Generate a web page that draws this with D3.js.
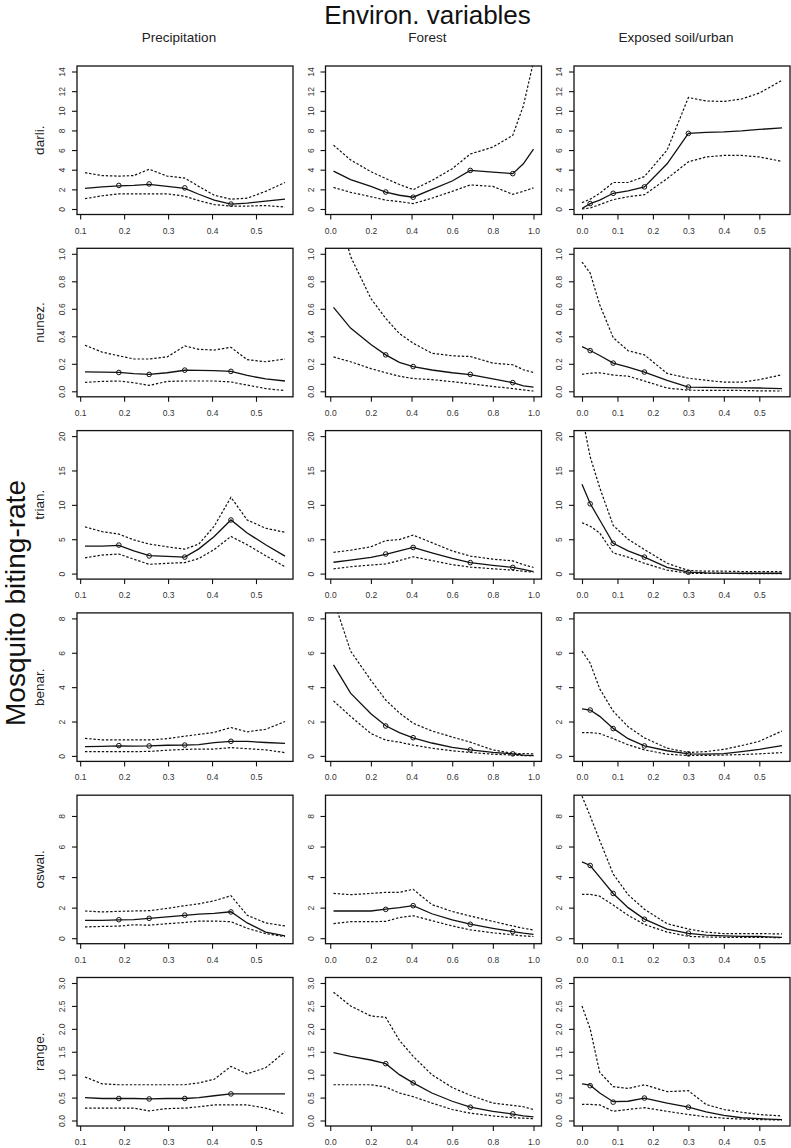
<!DOCTYPE html>
<html><head><meta charset="utf-8">
<script src="https://cdn.jsdelivr.net/npm/d3@7"></script>
<style>body{margin:0;background:#fff} svg{display:block;font-family:"Liberation Sans",Arial,sans-serif}</style>
</head><body><svg id="c" width="791" height="1148"></svg>
<script>
// ---------- categories / labels ----------
const mainTitle = "Environ. variables";
const sideTitle = "Mosquito biting-rate";
const rowNames = ["darli.", "nunez.", "trian.", "benar.", "oswal.", "range."];
const colNames = ["Precipitation", "Forest", "Exposed soil/urban"];

// ---------- axes ----------
const yLimMax = [14, 1, 20, 8, 9, 3];
const yTicks = [
  [0,2,4,6,8,10,12,14],
  [0,0.2,0.4,0.6,0.8,1.0],
  [0,5,10,15,20],
  [0,2,4,6,8],
  [0,2,4,6,8],
  [0,0.5,1.0,1.5,2.0,2.5,3.0]
];
const yTickDecimals = [0, 1, 0, 0, 0, 1];
const xTicksPrecip  = [0.1,0.2,0.3,0.4,0.5];
const xTicksForest  = [0.0,0.2,0.4,0.6,0.8,1.0];
const xTicksExposed = [0.0,0.1,0.2,0.3,0.4,0.5];

// ---------- x grids (per column) ----------
const xPrecip  = [0.111,0.15,0.188,0.222,0.257,0.298,0.338,0.37,0.405,0.443,0.48,0.522,0.566];
const xForest  = [0.016,0.1,0.2,0.273,0.34,0.408,0.5,0.6,0.689,0.8,0.898,0.95,1.0];
const xExposed = [0.0,0.023,0.05,0.088,0.13,0.176,0.24,0.30,0.35,0.40,0.45,0.50,0.564];
const ptsXPrecip  = [0.188,0.257,0.338,0.443];
const ptsXForest  = [0.273,0.408,0.689,0.898];
const ptsXExposed = [0.023,0.088,0.176,0.30];

// ---------- darli. ----------
const darliPrecipFit = [2.1,2.25,2.35,2.4,2.5,2.3,2.1,1.5,0.9,0.5,0.6,0.8,1.0];
const darliPrecipUp  = [3.7,3.4,3.35,3.4,4.05,3.35,3.15,2.3,1.4,1.0,1.1,1.8,2.7];
const darliPrecipLo  = [1.05,1.35,1.55,1.55,1.55,1.55,1.3,0.85,0.45,0.3,0.3,0.35,0.2];
const darliPrecipPts = [2.4,2.55,2.15,0.5];
const darliForestFit = [3.85,3.0,2.3,1.73,1.4,1.2,2.0,2.85,3.93,3.75,3.6,4.6,6.1];
const darliForestUp  = [6.5,5.0,3.8,3.1,2.5,1.97,2.9,4.1,5.6,6.3,7.5,10.5,15.0];
const darliForestLo  = [2.2,1.7,1.25,0.9,0.75,0.55,1.1,1.8,2.45,2.3,1.5,1.8,2.15];
const darliForestPts = [1.73,1.2,3.93,3.6];
const darliExposedFit = [0.05,0.55,0.9,1.6,1.85,2.25,4.6,7.7,7.8,7.85,7.95,8.1,8.25];
const darliExposedUp  = [0.65,1.0,1.6,2.7,2.7,3.3,6.0,11.35,11.0,10.95,11.2,11.8,13.1];
const darliExposedLo  = [0.0,0.1,0.45,0.95,1.25,1.45,3.1,4.8,5.3,5.45,5.45,5.3,4.85];
const darliExposedPts = [0.55,1.6,2.25,7.7];

// ---------- nunez. ----------
const nunezPrecipFit = [0.142,0.14,0.137,0.128,0.123,0.135,0.153,0.152,0.15,0.145,0.115,0.09,0.075];
const nunezPrecipUp  = [0.335,0.285,0.258,0.235,0.235,0.25,0.33,0.305,0.30,0.32,0.23,0.215,0.235];
const nunezPrecipLo  = [0.065,0.072,0.075,0.062,0.043,0.072,0.075,0.075,0.075,0.068,0.045,0.02,0.005];
const nunezPrecipPts = [0.137,0.123,0.154,0.145];
const nunezForestFit = [0.61,0.46,0.34,0.265,0.21,0.18,0.155,0.135,0.122,0.09,0.063,0.04,0.03];
const nunezForestUp  = [1.45,0.98,0.675,0.53,0.42,0.35,0.277,0.258,0.253,0.205,0.193,0.157,0.137];
const nunezForestLo  = [0.25,0.215,0.165,0.135,0.11,0.093,0.085,0.07,0.055,0.035,0.02,0.01,0.002];
const nunezForestPts = [0.265,0.18,0.123,0.063];
const nunezExposedFit = [0.325,0.297,0.26,0.205,0.175,0.14,0.08,0.03,0.028,0.027,0.025,0.024,0.019];
const nunezExposedUp  = [0.94,0.86,0.63,0.39,0.295,0.265,0.13,0.095,0.08,0.067,0.066,0.085,0.12];
const nunezExposedLo  = [0.123,0.132,0.135,0.118,0.11,0.075,0.024,0.008,0.007,0.007,0.006,0.003,0.002];
const nunezExposedPts = [0.296,0.205,0.14,0.031];

// ---------- trian. ----------
const trianPrecipFit = [4.0,4.0,4.1,3.3,2.6,2.5,2.4,3.6,5.4,7.8,5.9,4.2,2.55];
const trianPrecipUp  = [6.8,6.1,5.75,4.9,4.3,3.9,3.55,4.3,6.9,11.1,7.8,6.6,6.0];
const trianPrecipLo  = [2.3,2.7,2.85,2.1,1.35,1.5,1.6,2.2,3.5,5.4,4.2,2.6,1.0];
const trianPrecipPts = [4.15,2.57,2.4,7.8];
const trianForestFit = [1.65,1.95,2.35,2.8,3.3,3.8,3.0,2.2,1.6,1.2,0.9,0.6,0.3];
const trianForestUp  = [3.1,3.4,3.9,4.8,4.95,5.6,4.5,3.3,2.55,2.1,1.85,1.3,0.9];
const trianForestLo  = [0.7,1.0,1.25,1.4,1.9,2.45,1.9,1.3,0.95,0.7,0.5,0.35,0.2];
const trianForestPts = [2.85,3.8,1.6,0.9];
const trianExposedFit = [13.0,10.2,7.8,4.4,3.3,2.4,0.9,0.2,0.1,0.08,0.05,0.05,0.05];
const trianExposedUp  = [23.0,17.0,12.5,7.0,5.0,3.5,1.5,0.45,0.35,0.35,0.3,0.3,0.3];
const trianExposedLo  = [7.4,6.9,5.9,3.0,2.4,1.5,0.5,0.05,0.02,0.02,0.01,0.01,0.01];
const trianExposedPts = [10.15,4.4,2.4,0.2];

// ---------- benar. ----------
const benarPrecipFit = [0.54,0.55,0.58,0.57,0.58,0.62,0.63,0.66,0.77,0.85,0.84,0.78,0.73];
const benarPrecipUp  = [1.02,0.93,0.93,0.93,0.93,1.0,1.15,1.25,1.37,1.65,1.4,1.55,2.0];
const benarPrecipLo  = [0.25,0.25,0.25,0.25,0.26,0.33,0.38,0.4,0.4,0.48,0.42,0.35,0.19];
const benarPrecipPts = [0.6,0.58,0.63,0.85];
const benarForestFit = [5.3,3.65,2.45,1.75,1.35,1.05,0.75,0.5,0.35,0.2,0.12,0.05,0.02];
const benarForestUp  = [9.1,6.1,4.4,3.25,2.5,1.9,1.45,1.1,0.8,0.35,0.15,0.13,0.12];
const benarForestLo  = [3.2,2.3,1.3,0.92,0.8,0.63,0.45,0.3,0.2,0.1,0.05,0.02,0.01];
const benarForestPts = [1.74,1.06,0.35,0.12];
const benarExposedFit = [2.73,2.67,2.3,1.6,1.0,0.58,0.3,0.12,0.1,0.13,0.25,0.38,0.6];
const benarExposedUp  = [6.1,5.4,3.9,2.6,1.7,1.05,0.45,0.2,0.25,0.38,0.6,0.85,1.45];
const benarExposedLo  = [1.35,1.36,1.3,1.0,0.65,0.35,0.1,0.02,0.03,0.05,0.08,0.12,0.19];
const benarExposedPts = [2.67,1.59,0.58,0.12];

// ---------- oswal. ----------
const oswalPrecipFit = [1.17,1.17,1.2,1.22,1.3,1.4,1.5,1.58,1.63,1.73,1.0,0.4,0.15];
const oswalPrecipUp  = [1.78,1.72,1.76,1.78,1.8,1.95,2.13,2.25,2.45,2.78,1.5,1.0,0.8];
const oswalPrecipLo  = [0.74,0.77,0.79,0.88,0.85,0.95,1.03,1.12,1.12,1.08,0.65,0.3,0.1];
const oswalPrecipPts = [1.21,1.3,1.51,1.72];
const oswalForestFit = [1.78,1.78,1.78,1.9,2.0,2.13,1.6,1.2,0.92,0.65,0.43,0.33,0.25];
const oswalForestUp  = [2.93,2.85,2.93,3.0,3.0,3.2,2.2,1.75,1.45,1.1,0.8,0.65,0.54];
const oswalForestLo  = [0.95,1.08,1.08,1.1,1.35,1.47,1.15,0.8,0.55,0.35,0.22,0.15,0.11];
const oswalForestPts = [1.89,2.13,0.91,0.43];
const oswalExposedFit = [5.0,4.76,4.0,2.93,2.0,1.25,0.6,0.32,0.2,0.15,0.12,0.11,0.05];
const oswalExposedUp  = [9.3,8.0,6.4,4.2,2.85,1.9,0.95,0.6,0.4,0.3,0.3,0.3,0.28];
const oswalExposedLo  = [2.87,2.87,2.75,2.17,1.5,0.9,0.4,0.12,0.08,0.06,0.05,0.05,0.04];
const oswalExposedPts = [4.76,2.93,1.24,0.33];

// ---------- range. ----------
const rangePrecipFit = [0.5,0.48,0.48,0.48,0.47,0.48,0.48,0.5,0.54,0.58,0.58,0.58,0.58];
const rangePrecipUp  = [0.95,0.8,0.78,0.78,0.78,0.78,0.78,0.82,0.9,1.18,1.02,1.15,1.5];
const rangePrecipLo  = [0.27,0.27,0.27,0.27,0.21,0.26,0.27,0.3,0.34,0.34,0.34,0.27,0.14];
const rangePrecipPts = [0.48,0.47,0.48,0.58];
const rangeForestFit = [1.48,1.4,1.32,1.24,1.0,0.82,0.6,0.42,0.29,0.2,0.14,0.1,0.08];
const rangeForestUp  = [2.8,2.5,2.28,2.25,1.75,1.4,1.0,0.72,0.55,0.38,0.33,0.3,0.24];
const rangeForestLo  = [0.78,0.78,0.78,0.73,0.6,0.52,0.38,0.24,0.16,0.1,0.06,0.05,0.04];
const rangeForestPts = [1.24,0.82,0.29,0.145];
const rangeExposedFit = [0.8,0.77,0.6,0.41,0.42,0.49,0.38,0.29,0.19,0.11,0.06,0.04,0.02];
const rangeExposedUp  = [2.5,2.0,1.05,0.74,0.7,0.78,0.63,0.65,0.35,0.24,0.18,0.13,0.1];
const rangeExposedLo  = [0.35,0.35,0.34,0.2,0.24,0.28,0.2,0.13,0.08,0.05,0.03,0.02,0.01];
const rangeExposedPts = [0.76,0.4,0.49,0.29];

// ---------- assemble ----------
const colX = [xPrecip, xForest, xExposed];
const colPtsX = [ptsXPrecip, ptsXForest, ptsXExposed];
const colTicks = [xTicksPrecip, xTicksForest, xTicksExposed];
const panels = [
  [[darliPrecipFit,darliPrecipUp,darliPrecipLo,darliPrecipPts],[darliForestFit,darliForestUp,darliForestLo,darliForestPts],[darliExposedFit,darliExposedUp,darliExposedLo,darliExposedPts]],
  [[nunezPrecipFit,nunezPrecipUp,nunezPrecipLo,nunezPrecipPts],[nunezForestFit,nunezForestUp,nunezForestLo,nunezForestPts],[nunezExposedFit,nunezExposedUp,nunezExposedLo,nunezExposedPts]],
  [[trianPrecipFit,trianPrecipUp,trianPrecipLo,trianPrecipPts],[trianForestFit,trianForestUp,trianForestLo,trianForestPts],[trianExposedFit,trianExposedUp,trianExposedLo,trianExposedPts]],
  [[benarPrecipFit,benarPrecipUp,benarPrecipLo,benarPrecipPts],[benarForestFit,benarForestUp,benarForestLo,benarForestPts],[benarExposedFit,benarExposedUp,benarExposedLo,benarExposedPts]],
  [[oswalPrecipFit,oswalPrecipUp,oswalPrecipLo,oswalPrecipPts],[oswalForestFit,oswalForestUp,oswalForestLo,oswalForestPts],[oswalExposedFit,oswalExposedUp,oswalExposedLo,oswalExposedPts]],
  [[rangePrecipFit,rangePrecipUp,rangePrecipLo,rangePrecipPts],[rangeForestFit,rangeForestUp,rangeForestLo,rangeForestPts],[rangeExposedFit,rangeExposedUp,rangeExposedLo,rangeExposedPts]]
];

// ---------- layout ----------
const boxL = [77, 325.5, 574], boxW = 216;
const boxT = [66, 248.3, 430.6, 612.9, 795.2, 977.5], boxH = 148.5;

const svg = d3.select("#c");

svg.append("text").attr("x", 427.5).attr("y", 24).attr("text-anchor","middle")
  .attr("font-size", 26).attr("fill","#111").text(mainTitle);
svg.append("text").attr("transform","translate(25,603) rotate(-90)").attr("text-anchor","middle")
  .attr("font-size", 28).attr("fill","#111").text(sideTitle);

colNames.forEach((c,j)=>{
  svg.append("text").attr("x", boxL[j] + boxW/2 - 6).attr("y", 42).attr("text-anchor","middle")
    .attr("font-size", 13.5).attr("fill","#222").text(c);
});

const ext = (a,b)=>[a-0.04*(b-a), b+0.04*(b-a)];

rowNames.forEach((rn,i)=>{
  svg.append("text").attr("transform",`translate(39,${boxT[i]+boxH/2}) rotate(-90)`)
    .attr("text-anchor","middle").attr("dominant-baseline","central")
    .attr("font-size", 13.5).attr("fill","#222").text(rn);
  const y = d3.scaleLinear().domain(ext(0, yLimMax[i])).range([boxT[i]+boxH, boxT[i]]);
  const yfmt = d3.format(yTickDecimals[i] ? ".1f" : "d");
  colNames.forEach((cn,j)=>{
    const xs = colX[j];
    const x = d3.scaleLinear().domain(ext(xs[0], xs[xs.length-1])).range([boxL[j], boxL[j]+boxW]);
    const g = svg.append("g");
    const cid = `clip${i}_${j}`;
    g.append("clipPath").attr("id",cid).append("rect")
      .attr("x",boxL[j]).attr("y",boxT[i]).attr("width",boxW).attr("height",boxH);
    const [fit, up, lo, pts] = panels[i][j];
    const line = d3.line().x(d=>x(d[0])).y(d=>y(d[1]));
    const lg = g.append("g").attr("clip-path",`url(#${cid})`);
    [up, lo].forEach(s=>{
      lg.append("path").attr("d", line(xs.map((v,k)=>[v,s[k]])))
        .attr("fill","none").attr("stroke","#111").attr("stroke-width",1.2)
        .attr("stroke-dasharray","2.4,1.8");
    });
    lg.append("path").attr("d", line(xs.map((v,k)=>[v,fit[k]])))
      .attr("fill","none").attr("stroke","#111").attr("stroke-width",1.3);
    lg.selectAll("circle.p").data(colPtsX[j].map((v,k)=>[v,pts[k]])).enter()
      .append("circle").attr("cx",d=>x(d[0])).attr("cy",d=>y(d[1])).attr("r",2.3)
      .attr("fill","none").attr("stroke","#111").attr("stroke-width",1);
    // box
    g.append("rect").attr("x",boxL[j]).attr("y",boxT[i]).attr("width",boxW).attr("height",boxH)
      .attr("fill","none").attr("stroke","#111").attr("stroke-width",1.3);
    // y axis
    const ya = g.append("g").attr("transform",`translate(${boxL[j]},0)`)
      .call(d3.axisLeft(y).tickValues(yTicks[i]).tickSize(5).tickFormat(yfmt));
    ya.select(".domain").remove();
    ya.selectAll("line").attr("stroke","#111").attr("stroke-width",1.1);
    ya.selectAll("text").attr("x",null).attr("dy",null)
      .attr("transform","translate(-15,0) rotate(-90)").attr("text-anchor","middle")
      .attr("dominant-baseline","central").attr("font-size",8.5).attr("fill","#333")
      .attr("font-family",null);
    // x axis
    const xa = g.append("g").attr("transform",`translate(0,${boxT[i]+boxH})`)
      .call(d3.axisBottom(x).tickValues(colTicks[j]).tickSize(5).tickFormat(d3.format(".1f")));
    xa.select(".domain").remove();
    xa.selectAll("line").attr("stroke","#111").attr("stroke-width",1.1);
    xa.selectAll("text").attr("y",16).attr("dy",null).attr("dominant-baseline","central")
      .attr("font-size",8.5).attr("fill","#333").attr("font-family",null);
  });
});
</script></body></html>
